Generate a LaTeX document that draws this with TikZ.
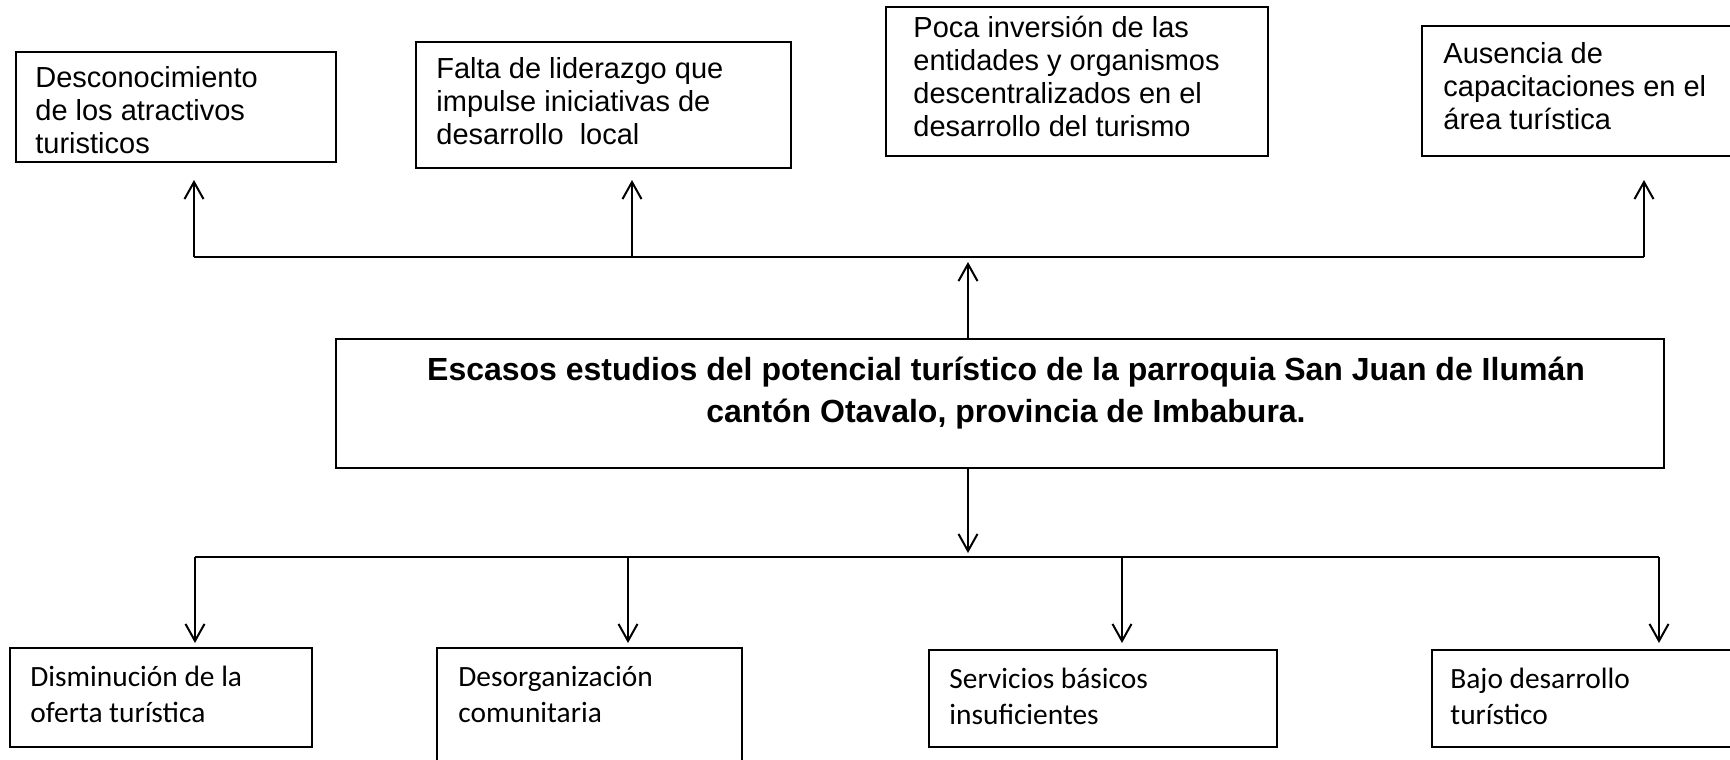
\documentclass[tikz,border=0pt]{standalone}
\usepackage{fontspec}
\setmainfont{Liberation Sans}
\newfontfamily\calibfont{Carlito}
\usetikzlibrary{arrows.meta}
\begin{document}
\begin{tikzpicture}[x=0.5pt,y=-0.5pt]
\tikzset{
 boxshape/.style={draw=black, line width=0.7pt, fill=white, inner sep=0pt, outer sep=0pt},
 toptext/.style={anchor=base west, inner sep=0pt, align=left, font=\fontsize{14.5pt}{16.5pt}\selectfont},
 bottext/.style={anchor=base west, inner sep=0pt, align=left, font=\calibfont\fontsize{14.7pt}{18pt}\selectfont},
 maintext/.style={anchor=base, inner sep=0pt, align=center, font=\bfseries\fontsize{16pt}{21pt}\selectfont},
 conn/.style={line width=1pt, draw=black},
 bar/.style={line width=1.3pt, draw=black},
 arr/.style={conn, -{Straight Barb[length=8.5pt,width=9.5pt,line width=1pt]}},
}
\useasboundingbox (0,0) rectangle (1730,760);
\clip (0,0) rectangle (1730,760);

% top boxes
\node[boxshape, minimum width=160pt, minimum height=55pt] (c1) at (176,107) {};
\node[boxshape, minimum width=187.5pt, minimum height=63pt] (c2) at (603.5,105) {};
\node[boxshape, minimum width=191pt, minimum height=74.5pt] (c3) at (1077,81.5) {};
\node[boxshape, minimum width=159pt, minimum height=65pt] (c4) at (1581,91) {};

% (base anchor = baseline of the last line)
\node[toptext] (c1t) at (35,153) {Desconocimiento\\de los atractivos\\turisticos};
\node[toptext] (c2t) at (436,144) {Falta de liderazgo que\\impulse iniciativas de\\desarrollo\ \ local};
\node[toptext] (c3t) at (913,136) {Poca inversión de las\\entidades y organismos\\descentralizados en el\\desarrollo del turismo};
\node[toptext] (c4t) at (1443,129) {Ausencia de\\capacitaciones en el\\área turística};

% main box
\node[boxshape, minimum width=664pt, minimum height=64.5pt] (main) at (1000,403.5) {};
\node[maintext] (maint) at (1006,422) {Escasos estudios del potencial turístico de la parroquia San Juan de Ilumán\\cantón Otavalo, provincia de Imbabura.};

% bottom boxes
\node[boxshape, minimum width=151pt, minimum height=49.5pt] (e1) at (161,697.5) {};
\node[boxshape, minimum width=152.5pt, minimum height=63.5pt] (e2) at (589.5,711.5) {};
\node[boxshape, minimum width=174pt, minimum height=48.5pt] (e3) at (1103,698.5) {};
\node[boxshape, minimum width=154pt, minimum height=48.5pt] (e4) at (1586,698.5) {};

\node[bottext] (e1t) at (30,722) {Disminución de la\\oferta turística};
\node[bottext] (e2t) at (458,722) {Desorganización\\comunitaria};
\node[bottext] (e3t) at (949,724) {Servicios básicos\\insuficientes};
\node[bottext] (e4t) at (1450,724) {Bajo desarrollo\\turístico};

% top connectors
\coordinate (topbar) at (968,257);
\coordinate (t1) at (194,180);
\coordinate (t2) at (632,180);
\coordinate (t4) at (1644,180);
\coordinate (uptip) at (968,262);
\draw[bar] (t1 |- topbar) -- (t4 |- topbar);
\draw[arr] (t1 |- topbar) -- (t1);
\draw[arr] (t2 |- topbar) -- (t2);
\draw[arr] (t4 |- topbar) -- (t4);
\draw[arr] (uptip |- main.north) -- (uptip);

% bottom connectors
\coordinate (botbar) at (968,557);
\coordinate (downtip) at (968,553);
\coordinate (b1) at (195,643);
\coordinate (b2) at (628,643);
\coordinate (b3) at (1122,643);
\coordinate (b4) at (1659,643);
\draw[arr] (downtip |- main.south) -- (downtip);
\draw[bar] (b1 |- botbar) -- (b4 |- botbar);
\draw[arr] (b1 |- botbar) -- (b1);
\draw[arr] (b2 |- botbar) -- (b2);
\draw[arr] (b3 |- botbar) -- (b3);
\draw[arr] (b4 |- botbar) -- (b4);
\end{tikzpicture}
\end{document}
